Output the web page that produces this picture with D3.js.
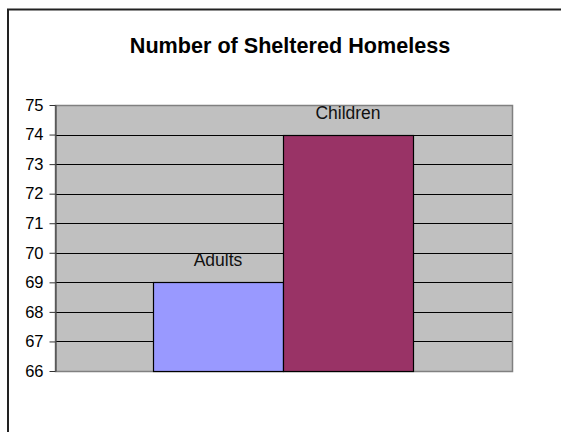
<!DOCTYPE html>
<html>
<head>
<meta charset="utf-8">
<script src="https://cdn.jsdelivr.net/npm/d3@7"></script>
<style>
  body { margin: 0; background: #fff; }
  svg { display: block; font-family: "Liberation Sans", Arial, sans-serif; }
</style>
</head>
<body>
<svg id="chart" width="561" height="432"></svg>
<script>
let title = "Number of Sheltered Homeless";
let seriesNames = ["Adults", "Children"];
let seriesValues = [69, 74];
let seriesColors = ["#9999ff", "#993366"];
let yTicks = [66, 67, 68, 69, 70, 71, 72, 73, 74, 75];

const svg = d3.select("#chart");
let plot = { left: 55, right: 512, top: 105, bottom: 371 };

// outer chart border (runs off the right and bottom of the picture)
svg.append("path")
  .attr("d", "M8,440 L8,9.5 L570,9.5")
  .attr("fill", "none")
  .attr("stroke", "#222")
  .attr("stroke-width", 2);

svg.append("text")
  .attr("x", 290)
  .attr("y", 53)
  .attr("text-anchor", "middle")
  .attr("font-size", 21.6)
  .attr("font-weight", "bold")
  .text(title);

let y = d3.scaleLinear()
  .domain([66, 75])
  .range([plot.bottom, plot.top]);

// one category, two series side by side, gap width 150%
let x = d3.scaleBand()
  .domain(seriesNames)
  .range([153, 413]);

svg.append("rect")
  .attr("x", plot.left)
  .attr("y", plot.top)
  .attr("width", plot.right - plot.left)
  .attr("height", plot.bottom - plot.top)
  .attr("fill", "#c0c0c0");

svg.append("g")
  .selectAll("line")
  .data(yTicks.slice(1, -1))
  .join("line")
  .attr("x1", plot.left)
  .attr("x2", plot.right)
  .attr("y1", d => Math.round(y(d)) + 0.5)
  .attr("y2", d => Math.round(y(d)) + 0.5)
  .attr("stroke", "#000");

svg.append("rect")
  .attr("x", plot.left + 0.5)
  .attr("y", plot.top + 0.5)
  .attr("width", plot.right - plot.left)
  .attr("height", plot.bottom - plot.top)
  .attr("fill", "none")
  .attr("stroke", "#808080")
  .attr("stroke-width", 1.5);

svg.append("g")
  .selectAll("rect")
  .data(seriesValues)
  .join("rect")
  .attr("x", (d, i) => x(seriesNames[i]) + 0.5)
  .attr("y", d => Math.round(y(d)) + 0.5)
  .attr("width", x.bandwidth())
  .attr("height", d => Math.round(y(66)) - Math.round(y(d)))
  .attr("fill", (d, i) => seriesColors[i])
  .attr("stroke", "#000")
  .attr("stroke-width", 1.2);

svg.append("g")
  .selectAll("text")
  .data(seriesValues)
  .join("text")
  .attr("x", (d, i) => x(seriesNames[i]) + x.bandwidth() / 2)
  .attr("y", d => y(d) - 16)
  .attr("text-anchor", "middle")
  .attr("font-size", 17.5)
  .attr("fill", "#111")
  .text((d, i) => seriesNames[i]);

let yAxis = svg.append("g")
  .attr("transform", `translate(${plot.left + 0.5},0)`)
  .call(d3.axisLeft(y).tickValues(yTicks).tickSize(6).tickPadding(6).tickSizeOuter(0));
yAxis.select(".domain").attr("stroke", "#333");
yAxis.selectAll(".tick line").attr("stroke", "#333");
yAxis.selectAll(".tick text")
  .attr("font-family", "Liberation Sans, Arial, sans-serif")
  .attr("font-size", 16.5)
  .attr("fill", "#000");
</script>
</body>
</html>
